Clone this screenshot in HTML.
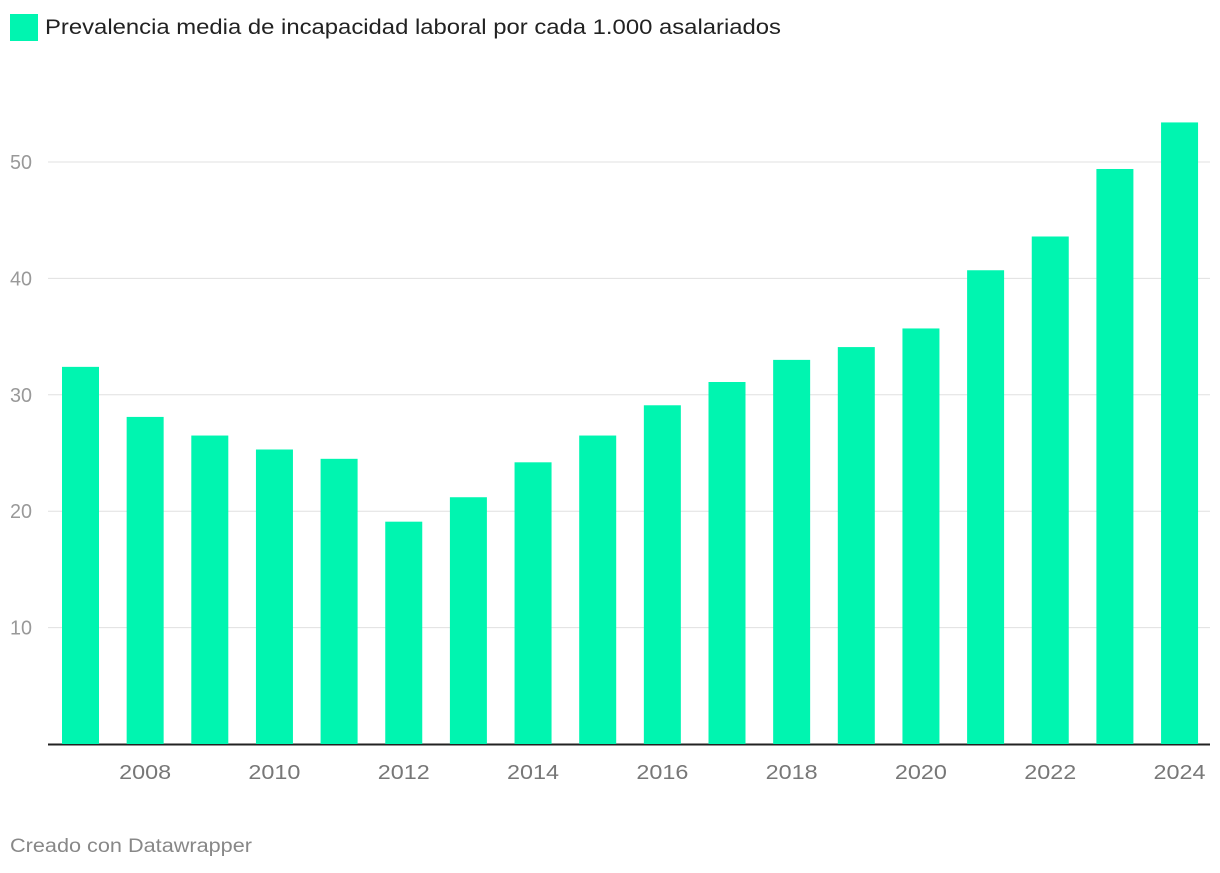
<!DOCTYPE html>
<html><head><meta charset="utf-8"><style>
body{margin:0;background:#fff;width:1220px;height:868px;overflow:hidden;font-family:"Liberation Sans",Roboto,sans-serif;}
svg text{font-family:"Liberation Sans",sans-serif;}
</style></head><body>
<svg id="chart" width="1220" height="868" xmlns="http://www.w3.org/2000/svg">
<rect x="10" y="14" width="28" height="27" fill="#00f5b0"/>
<text x="45" y="34" font-size="21" fill="#222" textLength="736" lengthAdjust="spacingAndGlyphs">Prevalencia media de incapacidad laboral por cada 1.000 asalariados</text>
<text x="10" y="852" font-size="19" fill="#888" textLength="242" lengthAdjust="spacingAndGlyphs">Creado con Datawrapper</text>
<g id="grid"></g><g id="bars"></g><g id="xlabels"></g>
</svg>
<script>
const years=[2007,2008,2009,2010,2011,2012,2013,2014,2015,2016,2017,2018,2019,2020,2021,2022,2023,2024];
const values=[32.4,28.1,26.5,25.3,24.5,19.1,21.2,24.2,26.5,29.1,31.1,33.0,34.1,35.7,40.7,43.6,49.4,53.4];
const yTicks=[10,20,30,40,50];
const xTickYears=[2008,2010,2012,2014,2016,2018,2020,2022,2024];
const NS="http://www.w3.org/2000/svg";
const y0=744, pxPer=11.64;
const yS=v=>y0-v*pxPer;
const x0=62, step=64.65, bw=37;
const xS=i=>x0+i*step;
const grid=document.getElementById('grid'),bars=document.getElementById('bars'),xl=document.getElementById('xlabels');
function mk(t,a,p){const e=document.createElementNS(NS,t);for(const k in a)e.setAttribute(k,a[k]);p.appendChild(e);return e;}
yTicks.forEach(v=>{
  const l=mk('line',{x1:48,x2:1210,y1:yS(v),y2:yS(v),stroke:'#e0e0e0','stroke-width':1},grid);
  
  
  const t=mk('text',{x:10,y:yS(v)+7,'font-size':20,fill:'#999',textLength:22,lengthAdjust:'spacingAndGlyphs'},grid);t.textContent=v;
  
  
});
values.forEach((v,i)=>{
  const r=mk('rect',{x:xS(i),y:yS(v),width:bw,height:v*pxPer,fill:'#00f5b0'},bars);
  
  
});
const base=mk('line',{x1:48,x2:1210,y1:y0+0.5,y2:y0+0.5,stroke:'#222','stroke-width':2},grid);


xTickYears.forEach(yr=>{
  const i=years.indexOf(yr);
  const t=mk('text',{x:xS(i)+bw/2-26,y:779,'font-size':20,fill:'#777',textLength:52,lengthAdjust:'spacingAndGlyphs'},xl);t.textContent=yr;
  
  
});
</script>
</body></html>
